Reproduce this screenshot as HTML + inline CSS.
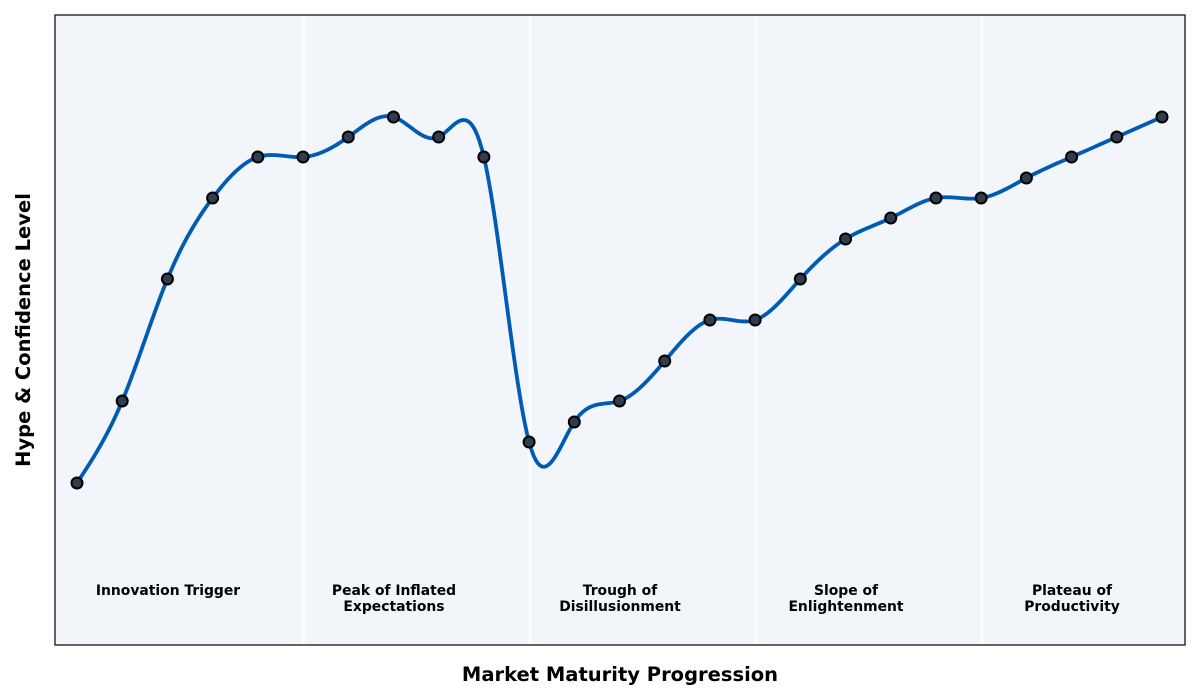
<!DOCTYPE html>
<html><head><meta charset="utf-8"><style>
html,body{margin:0;padding:0;background:#fff;}
svg{display:block;font-family:"DejaVu Sans","Liberation Sans",sans-serif;}
</style></head><body>
<svg width="1200" height="700" viewBox="0 0 1200 700" xmlns="http://www.w3.org/2000/svg">
<rect x="55" y="15" width="1130" height="630" fill="#f2f6fa"/>
<g stroke="#ffffff" stroke-width="2.5">
<line x1="303.5" y1="15" x2="303.5" y2="645"/>
<line x1="530" y1="15" x2="530" y2="645"/>
<line x1="756" y1="15" x2="756" y2="645"/>
<line x1="982" y1="15" x2="982" y2="645"/>
</g>
<path id="curve" d="" fill="none" stroke="#005bb5" stroke-width="3.8" stroke-linejoin="round" stroke-linecap="round"/>
<g id="pts" fill="#2f3e4f" stroke="#000" stroke-width="2"></g>
<rect x="55" y="15" width="1130" height="630" fill="none" stroke="#333" stroke-width="1.5"/>
<g font-size="13.9" font-weight="bold" text-anchor="middle" fill="#000">
<text x="168" y="595">Innovation Trigger</text>
<text x="394" y="595">Peak of Inflated</text><text x="394" y="611">Expectations</text>
<text x="620" y="595">Trough of</text><text x="620" y="611">Disillusionment</text>
<text x="846" y="595">Slope of</text><text x="846" y="611">Enlightenment</text>
<text x="1072" y="595">Plateau of</text><text x="1072" y="611">Productivity</text>
</g>
<text x="620" y="681" font-size="19.5" font-weight="bold" text-anchor="middle">Market Maturity Progression</text>
<text transform="translate(30,330) rotate(-90)" font-size="19.5" font-weight="bold" text-anchor="middle">Hype &amp; Confidence Level</text>
</svg>
<script>
var ys=[483,401,279,198,157,157,137,117,137,157,442,422,401,361,320,320,279,239,218,198,198,178,157,137,117];
var n=ys.length,x0=77,dx=(1162-77)/(n-1);
var m=new Array(n).fill(0),a=[],b=[],c=[],d=[];
for(var i=1;i<n-1;i++){a[i]=1;b[i]=4;c[i]=1;d[i]=6*(ys[i+1]-2*ys[i]+ys[i-1]);}
var cp=[],dp=[];cp[1]=c[1]/b[1];dp[1]=d[1]/b[1];
for(i=2;i<n-1;i++){var den=b[i]-a[i]*cp[i-1];cp[i]=c[i]/den;dp[i]=(d[i]-a[i]*dp[i-1])/den;}
m[n-2]=dp[n-2];for(i=n-3;i>=1;i--)m[i]=dp[i]-cp[i]*m[i+1];
var p="M"+x0+","+ys[0];
for(i=0;i<n-1;i++){
 for(var k=1;k<=20;k++){var t=k/20;
  var y=(1-t)*ys[i]+t*ys[i+1]+((Math.pow(1-t,3)-(1-t))*m[i]+(t*t*t-t)*m[i+1])/6;
  p+=" L"+(x0+(i+t)*dx).toFixed(2)+","+y.toFixed(2);}
}
document.getElementById("curve").setAttribute("d",p);
var g=document.getElementById("pts"),s="";
for(i=0;i<n;i++)s+='<circle cx="'+(x0+i*dx)+'" cy="'+ys[i]+'" r="5.5"/>';
g.innerHTML=s;
</script>
</body></html>
